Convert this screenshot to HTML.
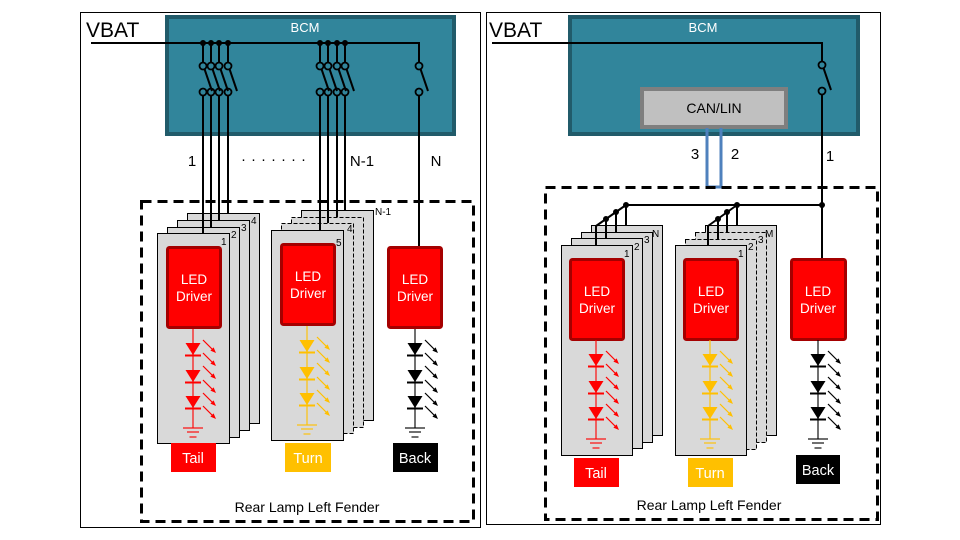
<!DOCTYPE html>
<html><head><meta charset="utf-8"><style>
html,body{margin:0;padding:0;background:#fff;}
svg{display:block;}
text{font-family:"Liberation Sans",sans-serif;}
</style></head><body>
<svg width="960" height="540" viewBox="0 0 960 540" xmlns="http://www.w3.org/2000/svg">
<defs>
<g id="arr"><line x1="0" y1="0" x2="10" y2="10" stroke="currentColor" stroke-width="1.2"/><polygon points="13,13 7.4,10.6 10.6,7.4" fill="currentColor"/></g>
<g id="leds">
<line x1="0" y1="0" x2="0" y2="99" stroke="currentColor" stroke-width="1.5" opacity="0.75"/>
<polygon points="-7.5,14 7.5,14 0,26" fill="currentColor"/><line x1="-8" y1="26.5" x2="8" y2="26.5" stroke="currentColor" stroke-width="2"/>
<polygon points="-7.5,41 7.5,41 0,53" fill="currentColor"/><line x1="-8" y1="53.5" x2="8" y2="53.5" stroke="currentColor" stroke-width="2"/>
<polygon points="-7.5,67 7.5,67 0,79" fill="currentColor"/><line x1="-8" y1="79.5" x2="8" y2="79.5" stroke="currentColor" stroke-width="2"/>
<use href="#arr" x="10" y="11"/><use href="#arr" x="10" y="24"/><use href="#arr" x="10" y="37"/>
<use href="#arr" x="10" y="51"/><use href="#arr" x="10" y="64"/><use href="#arr" x="10" y="77"/>
<line x1="-10" y1="99" x2="10" y2="99" stroke="currentColor" stroke-width="1.5" opacity="0.75"/>
<line x1="-6" y1="103" x2="6" y2="103" stroke="currentColor" stroke-width="1.5" opacity="0.75"/>
<line x1="-3.5" y1="108" x2="3.5" y2="108" stroke="currentColor" stroke-width="1.5" opacity="0.75"/>
</g>
<g id="sw">
<circle cx="0" cy="43" r="3" fill="#000"/>
<line x1="0" y1="43" x2="0" y2="62" stroke="#000" stroke-width="2"/>
<circle cx="0" cy="66" r="3.5" fill="none" stroke="#000" stroke-width="1.8"/>
<line x1="1.5" y1="69" x2="9" y2="91" stroke="#000" stroke-width="2"/>
<circle cx="0" cy="92" r="3.5" fill="none" stroke="#000" stroke-width="1.8"/>
</g>
</defs>

<!-- LEFT PANEL -->
<rect x="80.5" y="12.5" width="400" height="515" fill="#fff" stroke="#000" stroke-width="1"/>
<rect x="167" y="17" width="287" height="117" fill="#31859b" stroke="#215b6a" stroke-width="4"/>
<text x="305" y="32" font-size="13" fill="#fff" text-anchor="middle">BCM</text>
<text x="86" y="37" font-size="21">VBAT</text>
<polyline points="91,43 419,43 419,62" fill="none" stroke="#000" stroke-width="2"/>
<use href="#sw" x="203"/><use href="#sw" x="211"/><use href="#sw" x="219"/><use href="#sw" x="228"/>
<use href="#sw" x="320"/><use href="#sw" x="328"/><use href="#sw" x="337"/><use href="#sw" x="345"/>
<g stroke="#000" stroke-width="1">
<circle cx="419" cy="66" r="3.5" fill="none" stroke-width="1.8"/>
<line x1="420.5" y1="69" x2="428" y2="91" stroke-width="2"/>
<circle cx="419" cy="92" r="3.5" fill="none" stroke-width="1.8"/>
</g>
<text x="192" y="166" font-size="15" text-anchor="middle">1</text>
<text x="276" y="164" font-size="15" text-anchor="middle" letter-spacing="5">·······</text>
<text x="362" y="166" font-size="15" text-anchor="middle">N-1</text>
<text x="436" y="166" font-size="15" text-anchor="middle">N</text>
<rect x="141.5" y="201.5" width="332" height="320" fill="none" stroke="#000" stroke-width="3" stroke-dasharray="10,6"/>

<g fill="#d9d9d9" stroke="#000" stroke-width="1">
<rect x="187.5" y="213.5" width="72" height="210"/>
<rect x="177.5" y="220.5" width="72" height="210"/>
<rect x="167.5" y="227.5" width="72" height="210"/>
<rect x="157.5" y="233.5" width="72" height="210"/>
</g>
<g font-size="10" fill="#000"><text x="221" y="245">1</text><text x="231" y="238">2</text><text x="241" y="231">3</text><text x="251" y="224">4</text></g>
<g fill="#d9d9d9" stroke="#000" stroke-width="1">
<rect x="301.5" y="210.5" width="72" height="210"/>
<rect x="291.5" y="217.5" width="72" height="210" stroke-dasharray="4,2"/>
<rect x="281.5" y="223.5" width="72" height="210" stroke-dasharray="4,2"/>
<rect x="271.5" y="230.5" width="72" height="210"/>
</g>
<g font-size="10"><text x="336" y="246">5</text><text x="347" y="232">4</text><text x="375" y="215">N-1</text></g>
<g stroke="#000" stroke-width="2">
<line x1="203" y1="96" x2="203" y2="233"/><line x1="211" y1="96" x2="211" y2="227"/>
<line x1="219" y1="96" x2="219" y2="220"/><line x1="228" y1="96" x2="228" y2="213"/>
<line x1="320" y1="96" x2="320" y2="230"/><line x1="328" y1="96" x2="328" y2="223"/>
<line x1="337" y1="96" x2="337" y2="217"/><line x1="345" y1="96" x2="345" y2="210"/>
<line x1="419" y1="96" x2="419" y2="247"/>
</g>
<g fill="#ff0000" stroke="#a50000" stroke-width="3">
<rect x="167.5" y="247.5" width="53" height="80" rx="2"/>
<rect x="281.5" y="244.5" width="53" height="80" rx="2"/>
<rect x="388.5" y="247.5" width="53" height="80" rx="2"/>
</g>
<g font-size="13.5" fill="#fff" text-anchor="middle">
<text x="194" y="284">LED</text><text x="194" y="301">Driver</text>
<text x="308" y="281">LED</text><text x="308" y="298">Driver</text>
<text x="415" y="284">LED</text><text x="415" y="301">Driver</text>
</g>
<use href="#leds" x="193" y="329" color="#ff0000"/>
<use href="#leds" x="307" y="326" color="#ffc000"/>
<use href="#leds" x="415" y="329" color="#000"/>
<rect x="171" y="443" width="45" height="29" fill="#ff0000"/>
<rect x="285" y="443" width="46" height="29" fill="#ffc000"/>
<rect x="393" y="443" width="45" height="29" fill="#000"/>
<g font-size="14.5" fill="#fff" text-anchor="middle">
<text x="193" y="463">Tail</text><text x="308" y="463">Turn</text><text x="415" y="463">Back</text>
</g>
<text x="307" y="512" font-size="14" text-anchor="middle">Rear Lamp Left Fender</text>

<!-- RIGHT PANEL -->
<rect x="486.5" y="12.5" width="394" height="512" fill="#fff" stroke="#000" stroke-width="1"/>
<rect x="570" y="17" width="288" height="117" fill="#31859b" stroke="#215b6a" stroke-width="4"/>
<text x="703" y="32" font-size="13" fill="#fff" text-anchor="middle">BCM</text>
<text x="489" y="37" font-size="21">VBAT</text>
<rect x="642" y="89" width="144" height="38" fill="#c0c0c0" stroke="#7f7f7f" stroke-width="4"/>
<text x="714" y="113" font-size="14" text-anchor="middle">CAN/LIN</text>
<polyline points="492,43 822,43 822,61" fill="none" stroke="#000" stroke-width="2"/>
<circle cx="822" cy="65" r="3.5" fill="none" stroke="#000" stroke-width="1.8"/>
<line x1="823.5" y1="68" x2="831" y2="90" stroke="#000" stroke-width="2"/>
<circle cx="822" cy="91" r="3.5" fill="none" stroke="#000" stroke-width="1.8"/>
<line x1="822" y1="95" x2="822" y2="259" stroke="#000" stroke-width="2"/>
<polyline points="707,128 707,187 721,187 721,128" fill="none" stroke="#4f81bd" stroke-width="3"/>
<text x="695" y="159" font-size="15" text-anchor="middle">3</text>
<text x="735" y="159" font-size="15" text-anchor="middle">2</text>
<text x="830" y="161" font-size="15" text-anchor="middle">1</text>
<rect x="545.5" y="187.5" width="332" height="332" fill="none" stroke="#000" stroke-width="3" stroke-dasharray="10,6"/>
<g fill="#d9d9d9" stroke="#000" stroke-width="1">
<rect x="591.5" y="225.5" width="71" height="210"/>
<rect x="581.5" y="232.5" width="71" height="210"/>
<rect x="571.5" y="238.5" width="71" height="210"/>
<rect x="561.5" y="245.5" width="71" height="210"/>
<rect x="705.5" y="225.5" width="71" height="210"/>
<rect x="695.5" y="232.5" width="71" height="210" stroke-dasharray="4,2"/>
<rect x="685.5" y="239.5" width="71" height="210" stroke-dasharray="4,2"/>
<rect x="675.5" y="245.5" width="71" height="210"/>
</g>
<g font-size="10"><text x="624" y="257">1</text><text x="634" y="250">2</text><text x="644" y="243">3</text><text x="652" y="237">N</text>
<text x="738" y="257">1</text><text x="748" y="250">2</text><text x="758" y="243">3</text><text x="765" y="237">M</text></g>
<g stroke="#000" stroke-width="2" fill="none">
<line x1="626" y1="205" x2="822" y2="205"/>
<line x1="596" y1="226" x2="626" y2="205"/>
<line x1="596" y1="226" x2="596" y2="245"/><line x1="606" y1="219" x2="606" y2="238"/>
<line x1="616" y1="212" x2="616" y2="232"/><line x1="626" y1="205" x2="626" y2="225"/>
<line x1="708" y1="226" x2="737" y2="205"/>
<line x1="708" y1="226" x2="708" y2="245"/><line x1="718" y1="219" x2="718" y2="239"/>
<line x1="727" y1="212" x2="727" y2="232"/><line x1="737" y1="205" x2="737" y2="225"/>
</g>
<g fill="#000"><circle cx="606" cy="219" r="3"/><circle cx="616" cy="212" r="3"/><circle cx="626" cy="205" r="3"/>
<circle cx="718" cy="219" r="3"/><circle cx="727" cy="212" r="3"/><circle cx="737" cy="205" r="3"/><circle cx="822" cy="205" r="3"/></g>
<g fill="#ff0000" stroke="#a50000" stroke-width="3">
<rect x="570.5" y="259.5" width="53" height="80" rx="2"/>
<rect x="684.5" y="259.5" width="53" height="80" rx="2"/>
<rect x="791.5" y="259.5" width="54" height="80" rx="2"/>
</g>
<g font-size="13.5" fill="#fff" text-anchor="middle">
<text x="597" y="296">LED</text><text x="597" y="313">Driver</text>
<text x="711" y="296">LED</text><text x="711" y="313">Driver</text>
<text x="818" y="296">LED</text><text x="818" y="313">Driver</text>
</g>
<use href="#leds" x="596" y="340" color="#ff0000"/>
<use href="#leds" x="710" y="340" color="#ffc000"/>
<use href="#leds" x="818" y="340" color="#000"/>
<rect x="574" y="458" width="45" height="29" fill="#ff0000"/>
<rect x="688" y="458" width="45" height="29" fill="#ffc000"/>
<rect x="796" y="455" width="44" height="29" fill="#000"/>
<g font-size="14.5" fill="#fff" text-anchor="middle">
<text x="596" y="478">Tail</text><text x="710" y="478">Turn</text><text x="818" y="475">Back</text>
</g>
<text x="709" y="510" font-size="14" text-anchor="middle">Rear Lamp Left Fender</text>
</svg>
</body></html>
